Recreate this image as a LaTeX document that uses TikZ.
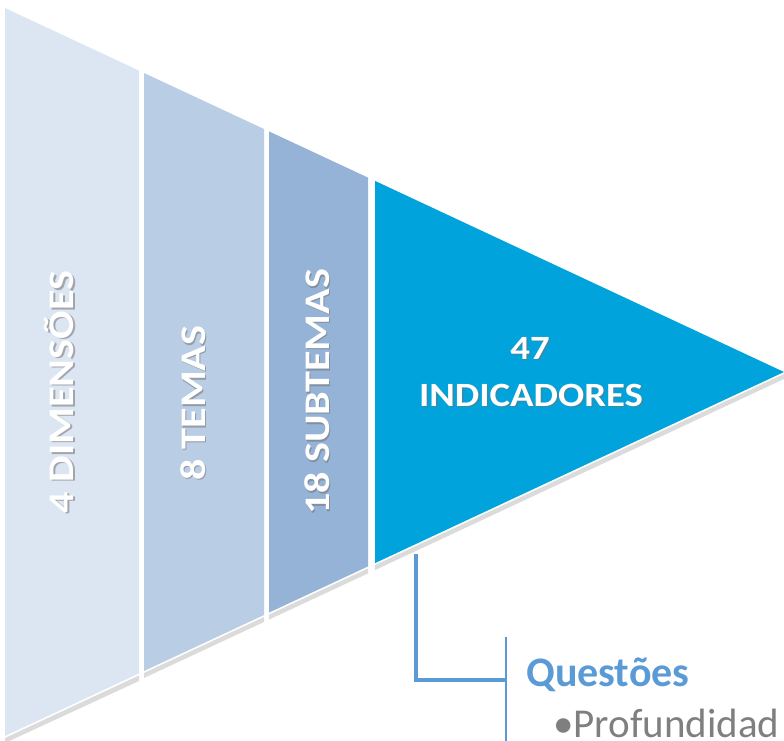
\documentclass[tikz,border=0pt]{standalone}
\usepackage{fontspec}
\setmainfont{Carlito}
\usetikzlibrary{positioning}

\definecolor{bandone}{HTML}{DCE6F2}
\definecolor{bandtwo}{HTML}{B9CDE5}
\definecolor{bandthree}{HTML}{95B3D7}
\definecolor{bandfour}{HTML}{00A3DB}
\definecolor{linkblue}{HTML}{5B9BD5}
\definecolor{bulletgray}{HTML}{7F7F7F}

\tikzset{
    bandshadow/.style={fill=black!40, opacity=0.35},
    bandlabel/.style={text=white, font=\bfseries\fontsize{34}{36}\selectfont, inner sep=0pt},
    uplabel/.style={bandlabel, font=\bfseries\fontsize{36}{38}\selectfont, rotate=90, xscale=1.17},
    flatlabel/.style={bandlabel, xscale=1.14},
    labelshadow/.style={text=black!55, opacity=0.55},
}

\begin{document}
\begin{tikzpicture}[x=1pt, y=-1pt]
        \useasboundingbox (0, 0) rectangle (784, 741);
        \clip (0, 0) rectangle (784, 741);
        % shadows under the lower edges
        \fill[bandshadow] (5, 738) -- (139, 675.4) -- (139, 681) -- (5, 743) -- cycle;
        \fill[bandshadow] (144, 673) -- (264, 617) -- (264, 622) -- (144, 678) -- cycle;
        \fill[bandshadow] (269, 614.6) -- (368, 568.4) -- (368, 573.4) -- (269, 619.6) -- cycle;
        \fill[bandshadow] (375, 565.1) -- (784, 374) -- (784, 379) -- (375, 570.1) -- cycle;
        % the four bands
        \fill[bandone] (5, 8) -- (139, 70.6) -- (139, 673.4) -- (5, 736) -- cycle;
        \fill[bandtwo] (144, 73) -- (264, 129) -- (264, 615) -- (144, 671) -- cycle;
        \fill[bandthree] (269, 131.4) -- (368, 177.6) -- (368, 566.4) -- (269, 612.6) -- cycle;
        \fill[bandfour] (375, 180.9) -- (784, 372) -- (375, 563.1) -- cycle;
        % band labels
        \node[uplabel, labelshadow] at (60.5, 393.5) {4 DIMENSÕES};
        \node[uplabel] (dimensoes) at (59, 392) {4 DIMENSÕES};
        \node[uplabel, labelshadow] at (194.5, 404.5) {8 TEMAS};
        \node[uplabel] (temas) at (193, 403) {8 TEMAS};
        \node[uplabel, labelshadow] at (318.5, 393.5) {18 SUBTEMAS};
        \node[uplabel] (subtemas) at (317, 392) {18 SUBTEMAS};
        \node[flatlabel, labelshadow] at (531.5, 349.5) {47};
        \node[flatlabel] (quantidade) at (530, 348) {47};
        \node[flatlabel, labelshadow] at (532.5, 396.5) {INDICADORES};
        \node[flatlabel] (indicadores) at (531, 395) {INDICADORES};
        % questions bracket
        \coordinate (linktop) at (416, 554);
        \coordinate (linkbend) at (416, 680);
        \coordinate (brackettop) at (506, 637);
        \coordinate (bracketbottom) at (506, 745);
        \draw[linkblue, line width=1.5pt] (brackettop) -- (bracketbottom);
        \draw[linkblue, line width=4pt] (linktop) -- (linkbend) -- (linkbend -| brackettop);
        \node[anchor=base west, inner sep=0pt, text=linkblue, font=\bfseries\fontsize{42}{44}\selectfont] (questoes) at (526, 686) {Questões};
        \node[anchor=base west, inner sep=0pt, text=bulletgray, font=\fontsize{41}{43}\selectfont] (profundidade) at (553, 737) {•Profundidad};
    \end{tikzpicture}
\end{document}
